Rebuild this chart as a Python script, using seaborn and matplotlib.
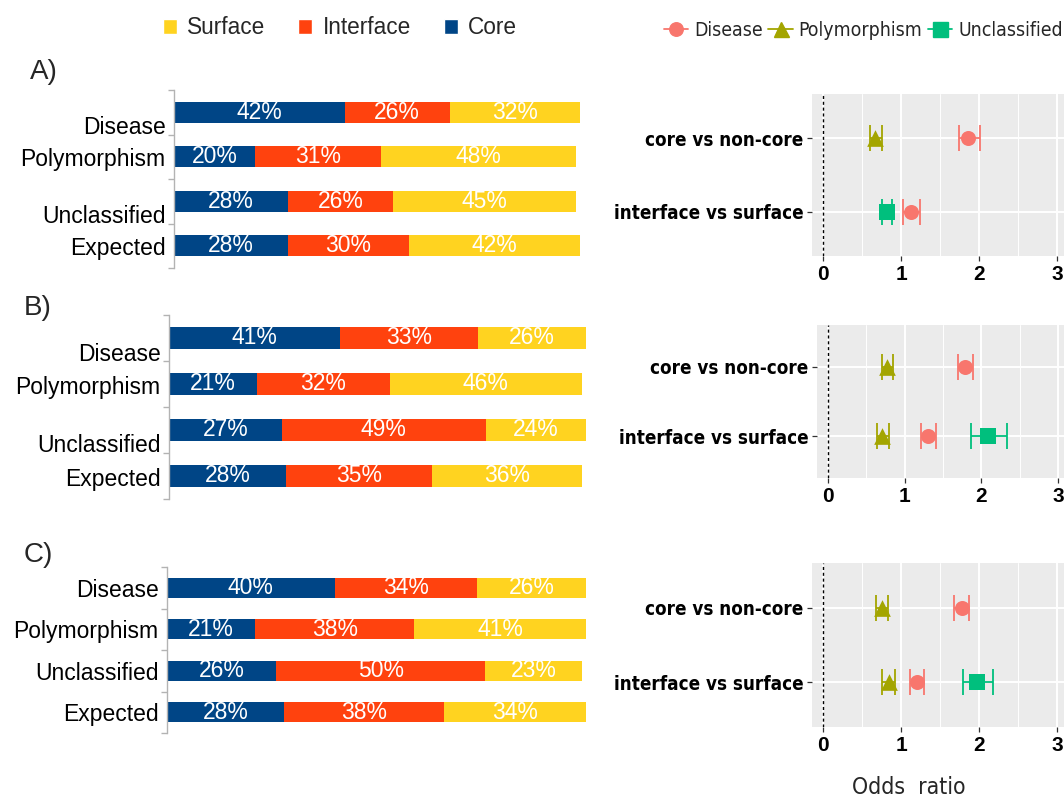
import os
import matplotlib
matplotlib.use("Agg")
import matplotlib.pyplot as plt
import seaborn as sns
import pandas as pd
from matplotlib.lines import Line2D
from matplotlib.patches import Patch
from matplotlib.transforms import ScaledTranslation
from matplotlib import font_manager
from matplotlib.font_manager import FontProperties

# ---------------- data ----------------
groups = ["Disease", "Polymorphism", "Unclassified", "Expected"]

a_core = [42, 20, 28, 28]
a_interface = [26, 31, 26, 30]
a_surface = [32, 48, 45, 42]

b_core = [41, 21, 27, 28]
b_interface = [33, 32, 49, 35]
b_surface = [26, 46, 24, 36]

c_core = [40, 21, 26, 28]
c_interface = [34, 38, 50, 38]
c_surface = [26, 41, 23, 34]

contrasts = ["core vs non-core", "interface vs surface"]

a_group = ["Polymorphism", "Disease", "Unclassified", "Disease"]
a_contrast = ["core vs non-core", "core vs non-core", "interface vs surface", "interface vs surface"]
a_or = [0.67, 1.86, 0.82, 1.13]
a_lo = [0.60, 1.74, 0.76, 1.02]
a_hi = [0.75, 2.01, 0.88, 1.24]

b_group = ["Polymorphism", "Disease", "Polymorphism", "Disease", "Unclassified"]
b_contrast = ["core vs non-core", "core vs non-core", "interface vs surface", "interface vs surface", "interface vs surface"]
b_or = [0.77, 1.79, 0.71, 1.31, 2.09]
b_lo = [0.70, 1.70, 0.64, 1.21, 1.87]
b_hi = [0.85, 1.89, 0.79, 1.41, 2.34]

c_group = ["Polymorphism", "Disease", "Polymorphism", "Disease", "Unclassified"]
c_contrast = ["core vs non-core", "core vs non-core", "interface vs surface", "interface vs surface", "interface vs surface"]
c_or = [0.75, 1.78, 0.84, 1.20, 1.98]
c_lo = [0.68, 1.68, 0.76, 1.11, 1.79]
c_hi = [0.83, 1.87, 0.92, 1.29, 2.18]

# ---------------- style ----------------
sns.set_style("white")
plt.rcParams["font.family"] = ["Liberation Sans", "DejaVu Sans"]


def condensed_font(bold):
    """Locate a narrow/condensed sans face; fall back to Liberation Sans."""
    skip = ("semi", "extra", "ultra", "italic", "oblique", "light", "medium",
            "black", "thin", "mono", "serif", "display", "ui", "symbols")
    prefs = ("liberationsans", "dejavusans", "roboto", "opensans", "notosans", "lato", "inter")
    found = {}
    for f in font_manager.fontManager.ttflist:
        base = os.path.basename(f.fname).lower().replace("_", "").replace("-", "")
        if not ("narrow" in base or "condensed" in base):
            continue
        if any(k in base for k in skip):
            continue
        if ("bold" in base) != bold:
            continue
        for rank, p in enumerate(prefs):
            if base.startswith(p):
                found.setdefault(rank, f.fname)
    if found:
        return FontProperties(fname=found[min(found)])
    return FontProperties(family="Liberation Sans", weight="bold" if bold else "normal")


NARROW_REG = condensed_font(False)
NARROW_BOLD = condensed_font(True)

CORE_C = "#004586"
INTERFACE_C = "#ff420e"
SURFACE_C = "#ffd320"
GROUP_COLORS = {"Disease": "#F8766D", "Polymorphism": "#A3A500", "Unclassified": "#00BF7D"}
GROUP_MARKERS = {"Disease": "o", "Polymorphism": "^", "Unclassified": "s"}
GROUP_SIZES = {"Disease": 10.8, "Polymorphism": 12.0, "Unclassified": 12.0}

W, H = 1064, 798
fig = plt.figure(figsize=(W / 100, H / 100), dpi=100)
renderer = fig.canvas.get_renderer()


def fitted(fp, text, width_px, max_size):
    """Font properties sized so that `text` spans about width_px pixels."""
    probe = fp.copy()
    probe.set_size(10)
    t = fig.text(0, 0, text, fontproperties=probe)
    w = t.get_window_extent(renderer).width
    t.remove()
    out = fp.copy()
    out.set_size(min(10 * width_px / w, max_size))
    return out


FP_LEGEND = fitted(NARROW_REG, "Polymorphism", 123, 17.3)
FP_YLAB = fitted(NARROW_BOLD, "interface vs surface", 189, 18.0)
FP_XLAB = fitted(NARROW_REG, "Odds  ratio", 114, 19.0)


def px_axes(x0, y0, x1, y1):
    return fig.add_axes([x0 / W, 1 - y1 / H, (x1 - x0) / W, (y1 - y0) / H])


def draw_bars(ax, core, interface, surface, label_offsets):
    core_int = [c + i for c, i in zip(core, interface)]
    total = [c + i + s for c, i, s in zip(core, interface, surface)]
    for vals, col in [(total, SURFACE_C), (core_int, INTERFACE_C), (core, CORE_C)]:
        sns.barplot(x=vals, y=groups, orient="h", color=col, saturation=1,
                    width=0.48, linewidth=0, errorbar=None, ax=ax)
    for row in range(len(groups)):
        segs = [(0, core[row]), (core[row], interface[row]), (core_int[row], surface[row])]
        for start, v in segs:
            ax.text(start + v / 2, row, f"{v}%", ha="center", va="center",
                    color="white", fontsize=16.5)
    ax.set_xlim(0, 100)
    ax.set_ylim(3.5, -0.5)
    for s in ["top", "right", "bottom"]:
        ax.spines[s].set_visible(False)
    ax.spines["left"].set_color("#b3b3b3")
    ax.spines["left"].set_linewidth(1.0)
    ax.set_xticks([])
    ax.set_xlabel("")
    ax.set_ylabel("")
    ax.set_yticks(range(len(groups)), groups)
    ax.set_yticks([-0.5, 0.5, 1.5, 2.5, 3.5], minor=True)
    ax.tick_params(axis="y", which="major", left=True, length=0, pad=6,
                   labelsize=16.5, labelcolor="black")
    ax.tick_params(axis="y", which="minor", left=True, length=4.5, width=1.0,
                   color="#b3b3b3", direction="out")
    for lbl, off in zip(ax.get_yticklabels(), label_offsets):
        lbl.set_transform(lbl.get_transform() + ScaledTranslation(0, -off / 100, fig.dpi_scale_trans))


def draw_forest(ax, grp, con, val, lo, hi, xlim):
    df = pd.DataFrame({"group": grp, "contrast": con, "odds": val, "lo": lo, "hi": hi})
    df["ypos"] = [contrasts.index(c) + 1 for c in df["contrast"]]
    ax.set_facecolor("#EBEBEB")
    for s in ax.spines.values():
        s.set_visible(False)
    ax.set_xticks([0, 1, 2, 3])
    ax.set_xticks([0.5, 1.5, 2.5], minor=True)
    ax.set_yticks([1, 2], contrasts)
    ax.grid(True, which="major", axis="both", color="white", linewidth=1.4, zorder=0)
    ax.grid(True, which="minor", axis="x", color="white", linewidth=0.7, zorder=0)
    ax.set_axisbelow(True)
    ax.axvline(0, color="black", linestyle=(0, (2.2, 2.0)), linewidth=1.0, zorder=1)
    for g in GROUP_COLORS:
        sub = df[df["group"] == g]
        if sub.empty:
            continue
        ax.errorbar(sub["odds"], sub["ypos"],
                    xerr=[sub["odds"] - sub["lo"], sub["hi"] - sub["odds"]],
                    fmt="none", ecolor=GROUP_COLORS[g], elinewidth=1.3,
                    capsize=9.5, capthick=1.3, zorder=2)
        sns.scatterplot(data=sub, x="odds", y="ypos", color=GROUP_COLORS[g],
                        marker=GROUP_MARKERS[g], s=GROUP_SIZES[g] ** 2,
                        linewidth=0, zorder=3, legend=False, ax=ax)
    ax.set_xlim(*xlim)
    ax.set_ylim(2.6, 0.4)
    ax.set_xlabel("")
    ax.set_ylabel("")
    ax.tick_params(axis="y", which="major", left=True, length=3.5, width=0.9,
                   color="#333333", pad=2.5)
    ax.tick_params(axis="x", which="major", bottom=True, length=3.5, width=0.9,
                   color="#333333", pad=3)
    ax.tick_params(axis="x", which="minor", bottom=False, length=0)
    for lbl in ax.get_yticklabels():
        lbl.set_fontproperties(FP_YLAB)
        lbl.set_color("black")
    for lbl in ax.get_xticklabels():
        lbl.set_fontweight("bold")
        lbl.set_fontsize(15)
        lbl.set_color("black")


# ---------------- stacked composition bars ----------------
ax_a = px_axes(174, 90, 580, 268)
draw_bars(ax_a, a_core, a_interface, a_surface, [13, 0, 13, 0])
ax_b = px_axes(169, 315, 586, 499)
draw_bars(ax_b, b_core, b_interface, b_surface, [14, 1, 13, 1])
ax_c = px_axes(167, 567, 586, 733)
draw_bars(ax_c, c_core, c_interface, c_surface, [0, 0, 0, 0])

for txt, (x, y) in zip(["A)", "B)", "C)"], [(30, 72), (24, 308), (24, 555)]):
    fig.text(x / W, 1 - y / H, txt, ha="left", va="center", fontsize=20)

# ---------------- odds-ratio panels ----------------
def px_xlim(left, right, zero, unit):
    return ((left - zero) / unit, (right - zero) / unit)

fx_a = px_axes(812, 94, 1090, 256)
draw_forest(fx_a, a_group, a_contrast, a_or, a_lo, a_hi, px_xlim(812, 1090, 823, 78))
fx_b = px_axes(817, 325, 1090, 478)
draw_forest(fx_b, b_group, b_contrast, b_or, b_lo, b_hi, px_xlim(817, 1090, 828, 76.7))
fx_c = px_axes(812, 563, 1090, 727)
draw_forest(fx_c, c_group, c_contrast, c_or, c_lo, c_hi, px_xlim(812, 1090, 823, 78))

fig.text(909 / W, 1 - 787 / H, "Odds  ratio", ha="center", va="center",
         fontproperties=FP_XLAB)

# ---------------- legends ----------------
comp_handles = [Patch(facecolor=SURFACE_C, label="Surface"),
                Patch(facecolor=INTERFACE_C, label="Interface"),
                Patch(facecolor=CORE_C, label="Core")]
fig.legend(handles=comp_handles, loc="center left", bbox_to_anchor=(163 / W, 1 - 28 / H),
           ncol=3, frameon=False, fontsize=16.3, handlelength=0.62, handleheight=0.62,
           handletextpad=0.45, columnspacing=1.45, borderpad=0, borderaxespad=0)

grp_handles = [Line2D([0], [0], color=GROUP_COLORS[g], marker=GROUP_MARKERS[g],
                      markersize=GROUP_SIZES[g] * 0.9, linewidth=1.3, label=g)
               for g in GROUP_COLORS]
fig.legend(handles=grp_handles, loc="center left", bbox_to_anchor=(664 / W, 1 - 30 / H),
           ncol=3, frameon=False, prop=FP_LEGEND,
           handlelength=1.4 * 17.3 / FP_LEGEND.get_size() * 0.72, handletextpad=0.3,
           columnspacing=0.3, borderpad=0, borderaxespad=0)

fig.savefig("out.png", dpi=100)
